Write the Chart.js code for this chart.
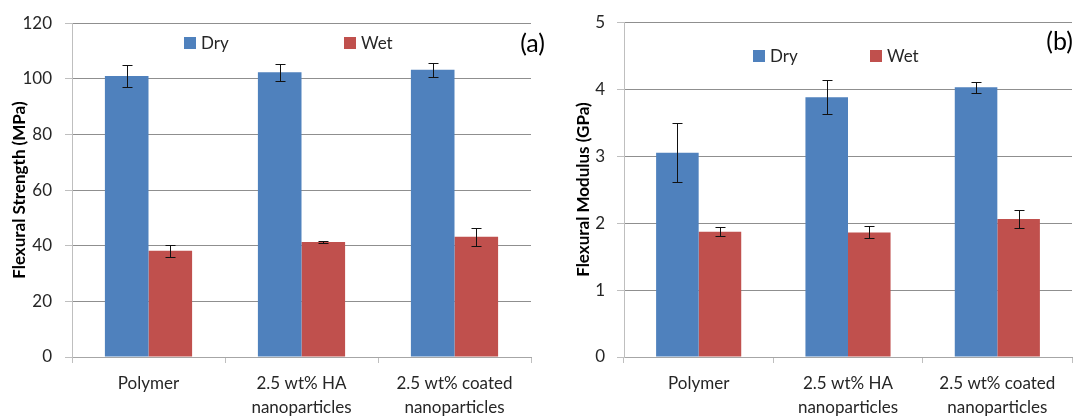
<!DOCTYPE html>
<html>
<head>
<meta charset="utf-8">
<script src="https://cdn.jsdelivr.net/npm/chart.js@4.4.1/dist/chart.umd.min.js"></script>
<style>
  html, body { margin: 0; padding: 0; background: #fff; }
  #wrap { position: relative; width: 1075px; height: 417px; }
  canvas { position: absolute; top: 0; }
  #chartStrength { left: 0; }
  #chartModulus { left: 548px; }
</style>
</head>
<body>
<div id="wrap">
  <canvas id="chartStrength" width="545" height="417"></canvas>
  <canvas id="chartModulus" width="527" height="417"></canvas>
</div>
<script>
// ============================================================
// data
// ============================================================
const categories = ["Polymer", ["2.5 wt% HA", "nanoparticles"], ["2.5 wt% coated", "nanoparticles"]];

const strengthDry = [101.0, 102.4, 103.3];
const strengthDryErr = [4.0, 3.1, 2.5];
const strengthWet = [38.2, 41.3, 43.2];
const strengthWetErr = [2.1, 0.4, 3.3];

const modulusDry = [3.05, 3.88, 4.03];
const modulusDryErr = [0.44, 0.25, 0.08];
const modulusWet = [1.87, 1.86, 2.06];
const modulusWetErr = [0.07, 0.09, 0.13];

const strengthTicks = { min: 0, max: 120, step: 20 };
const modulusTicks = { min: 0, max: 5, step: 1 };

const DRY = "#4F81BD";
const WET = "#C0504D";
const FONT = "Lato";

// ðŸ”¹ error bars, drawn from the bar elements + y scale
const errorBars = {
  id: "errorBars",
  afterDatasetsDraw(chart) {
    const ctx = chart.ctx;
    const y = chart.scales.y;
    ctx.save();
    ctx.strokeStyle = "#111";
    ctx.lineWidth = 1;
    chart.data.datasets.forEach((ds, di) => {
      chart.getDatasetMeta(di).data.forEach((bar, i) => {
        const v = ds.data[i], e = ds.errors[i];
        const x = Math.round(bar.x) + 0.5;
        const top = Math.round(y.getPixelForValue(v + e)) + 0.5;
        const bot = Math.round(y.getPixelForValue(v - e)) + 0.5;
        ctx.beginPath();
        ctx.moveTo(x, top); ctx.lineTo(x, bot);
        ctx.moveTo(x - 5, top); ctx.lineTo(x + 5, top);
        ctx.moveTo(x - 5, bot); ctx.lineTo(x + 5, bot);
        ctx.stroke();
      });
    });
    ctx.restore();
  }
};

// ðŸ”¹ legend inside the plot + panel tag (a)/(b)
const boxLegend = {
  id: "boxLegend",
  afterDraw(chart, args, opts) {
    const ctx = chart.ctx;
    const area = chart.chartArea;
    ctx.save();
    ctx.font = `17px ${FONT}`;
    ctx.textBaseline = "middle";
    chart.data.datasets.forEach((ds, i) => {
      const x = area.left + opts.offsets[i];
      ctx.fillStyle = ds.backgroundColor;
      ctx.fillRect(x, opts.y - 6, 12, 12);
      ctx.fillStyle = "#262626";
      ctx.fillText(ds.label, x + 17, opts.y + 1);
    });
    ctx.font = `25px ${FONT}`;
    ctx.textAlign = "right";
    ctx.fillStyle = "#000";
    ctx.fillText(opts.tag, opts.tagX, opts.tagY);
    ctx.restore();
  }
};

function makeChart(id, s) {
  return new Chart(document.getElementById(id), {
    type: "bar",
    data: {
      labels: categories,
      datasets: [
        { label: "Dry", data: s.dry, errors: s.dryErr, backgroundColor: DRY },
        { label: "Wet", data: s.wet, errors: s.wetErr, backgroundColor: WET },
      ],
    },
    options: {
      responsive: false,
      animation: false,
      layout: { padding: s.padding },
      categoryPercentage: 0.57,
      barPercentage: 1,
      plugins: {
        legend: { display: false },
        tooltip: { enabled: false },
        boxLegend: s.legend,
      },
      scales: {
        x: {
          grid: {
            offset: true,
            drawOnChartArea: false,
            drawTicks: true,
            tickLength: 6,
            tickColor: "#bfbfbf",
          },
          border: { color: "#a6a6a6" },
          ticks: {
            color: "#262626",
            font: { family: FONT, size: 17, lineHeight: 1.4 },
            padding: 9,
            maxRotation: 0,
            autoSkip: false,
          },
          afterFit(scale) { scale.height = 60; },
        },
        y: {
          min: s.ticks.min,
          max: s.ticks.max,
          grid: { color: "#8f8f8f", tickLength: 7, tickColor: "#bfbfbf" },
          border: { color: "#bfbfbf" },
          ticks: {
            stepSize: s.ticks.step,
            color: "#262626",
            font: { family: FONT, size: 17 },
            padding: s.tickPad,
          },
          title: {
            display: true,
            text: s.title,
            color: "#000",
            font: { family: FONT, size: 17, weight: "bold" },
            padding: { top: s.titlePad, bottom: 0 },
          },
          afterFit(scale) { scale.width = s.axisWidth; },
        },
      },
    },
    plugins: [errorBars, boxLegend],
  });
}

document.fonts.load(`17px ${FONT}`).then(() => document.fonts.load(`bold 17px ${FONT}`)).then(() => {
  makeChart("chartStrength", {
    dry: strengthDry, dryErr: strengthDryErr,
    wet: strengthWet, wetErr: strengthWetErr,
    ticks: strengthTicks,
    title: "Flexural Strength (MPa)",
    padding: { top: 21, right: 14, bottom: 0, left: 0 },
    axisWidth: 72, tickPad: 13, titlePad: 9,
    legend: { offsets: [112, 272], y: 43, tag: "(a)", tagX: 545, tagY: 44 },
  });
  makeChart("chartModulus", {
    dry: modulusDry, dryErr: modulusDryErr,
    wet: modulusWet, wetErr: modulusWetErr,
    ticks: modulusTicks,
    title: "Flexural Modulus (GPa)",
    padding: { top: 22, right: 3, bottom: 0, left: 0 },
    axisWidth: 76, tickPad: 12, titlePad: 25,
    legend: { offsets: [129, 246], y: 56, tag: "(b)", tagX: 525, tagY: 42 },
  });
});
</script>
</body>
</html>
